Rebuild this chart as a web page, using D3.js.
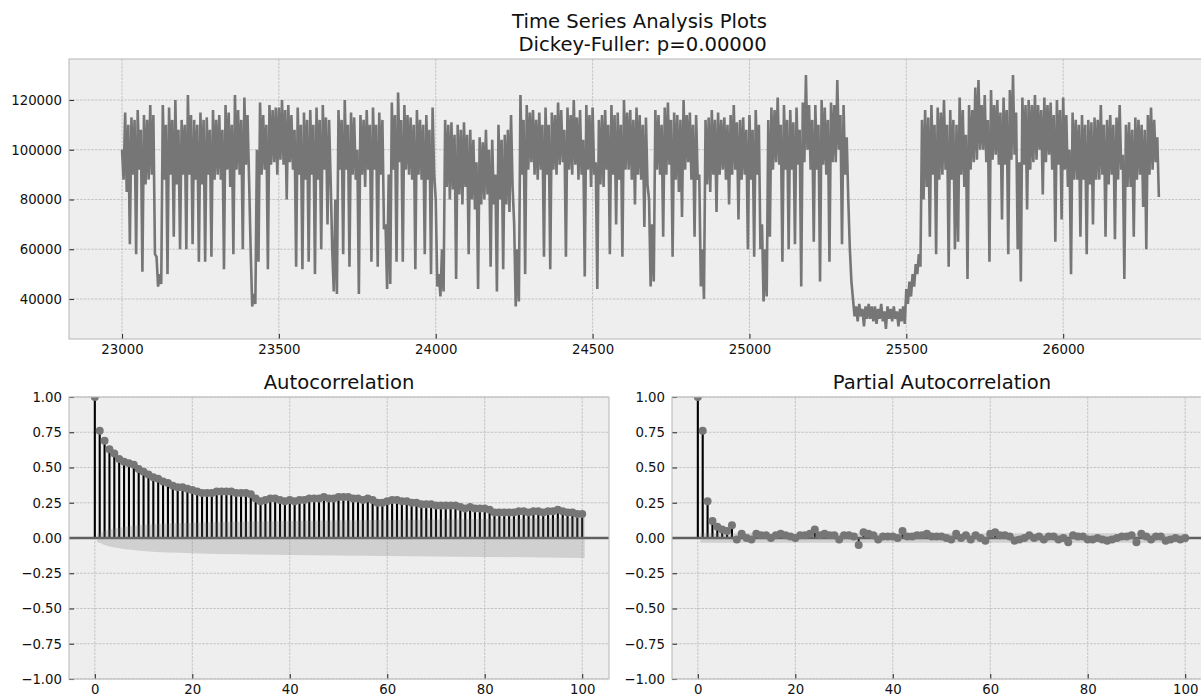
<!DOCTYPE html>
<html lang="en">
<head>
<meta charset="UTF-8">
<script src="https://cdn.jsdelivr.net/npm/d3@7"></script>
<title>Time Series Analysis Plots</title>
<style>
  body { margin: 0; background: #fff; }
  svg { display: block; font-family: "DejaVu Sans", sans-serif; }
</style>
</head>
<body>
<svg id="chart" width="1201" height="697"></svg>
<script>
// ---- data ----
// series: top and bottom of the trace in each 10-step bin, in thousands
const tsStart = 23000;
const tsStep = 10;
const tsHigh = [
  100, 115, 110, 113, 112, 116, 108, 114, 112, 118,
  114, 57, 50, 118, 110, 117, 112, 120, 108, 112,
  110, 122, 114, 112, 110, 115, 112, 113, 108, 116,
  112, 114, 108, 118, 115, 110, 122, 116, 112, 121,
  114, 60, 42, 100, 119, 114, 110, 118, 116, 117,
  117, 120, 116, 118, 114, 108, 117, 110, 115, 112,
  116, 110, 117, 112, 118, 113, 112, 60, 80, 116,
  112, 120, 110, 115, 113, 100, 114, 112, 116, 110,
  117, 110, 115, 112, 70, 90, 119, 114, 123, 112,
  118, 114, 113, 110, 116, 112, 110, 114, 108, 117,
  80, 50, 60, 112, 110, 111, 106, 110, 108, 111,
  106, 108, 104, 95, 105, 103, 108, 100, 104, 90,
  110, 104, 106, 108, 114, 70, 60, 122, 112, 118,
  115, 116, 112, 115, 110, 117, 110, 115, 114, 119,
  116, 108, 117, 114, 120, 113, 116, 104, 118, 114,
  117, 95, 112, 114, 116, 110, 118, 114, 115, 110,
  120, 115, 116, 112, 117, 114, 110, 113, 80, 70,
  116, 114, 110, 117, 119, 112, 115, 114, 112, 120,
  114, 115, 110, 114, 90, 60, 112, 113, 116, 112,
  115, 112, 113, 110, 114, 118, 111, 112, 113, 108,
  114, 108, 116, 110, 70, 60, 112, 117, 116, 121,
  110, 118, 112, 116, 111, 117, 108, 119, 130, 118,
  112, 118, 110, 120, 117, 112, 119, 118, 128, 114,
  118, 105, 60, 40, 37, 38, 36, 37, 38, 37,
  37, 36, 38, 35, 37, 36, 37, 35, 36, 37,
  44, 47, 50, 54, 58, 112, 116, 113, 118, 110,
  117, 115, 120, 110, 116, 112, 110, 121, 116, 106,
  118, 116, 125, 128, 118, 122, 112, 124, 118, 120,
  115, 121, 116, 124, 130, 115, 95, 121, 118, 120,
  118, 122, 118, 116, 121, 118, 119, 114, 120, 116,
  121, 114, 100, 115, 112, 110, 114, 110, 112, 111,
  113, 112, 118, 110, 112, 114, 110, 113, 118, 98,
  110, 111, 108, 113, 112, 110, 108, 114, 117, 112,
  105
];
const tsLow = [
  88, 83, 62, 90, 58, 92, 51, 86, 88, 90,
  58, 45, 46, 88, 50, 90, 65, 86, 60, 90,
  60, 90, 62, 88, 55, 86, 55, 90, 57, 88,
  90, 88, 52, 92, 85, 58, 92, 90, 60, 94,
  88, 37, 38, 55, 90, 92, 52, 94, 95, 90,
  96, 94, 80, 95, 92, 53, 90, 52, 88, 55,
  90, 50, 88, 60, 92, 70, 88, 43, 42, 92,
  58, 92, 53, 90, 88, 42, 90, 85, 92, 55,
  92, 53, 90, 68, 44, 46, 92, 55, 95, 55,
  92, 90, 88, 52, 90, 88, 58, 88, 50, 90,
  45, 41, 43, 85, 80, 84, 48, 82, 78, 85,
  58, 80, 76, 44, 78, 80, 82, 53, 78, 43,
  80, 52, 78, 75, 85, 37, 39, 90, 50, 92,
  95, 90, 88, 92, 57, 90, 52, 92, 90, 94,
  95, 57, 92, 90, 94, 88, 90, 49, 92, 85,
  90, 44, 86, 85, 92, 58, 90, 70, 88, 57,
  92, 92, 88, 78, 90, 88, 69, 86, 45, 47,
  92, 90, 65, 90, 94, 57, 88, 83, 73, 92,
  95, 88, 65, 88, 45, 40, 86, 83, 90, 75,
  90, 92, 88, 78, 90, 92, 72, 88, 90, 60,
  88, 57, 90, 60, 39, 41, 65, 92, 95, 94,
  55, 92, 60, 92, 62, 94, 45, 95, 100, 92,
  63, 92, 47, 94, 90, 55, 95, 95, 100, 62,
  90, 80, 47, 33, 31, 33, 29, 32, 32, 31,
  30, 32, 31, 28, 32, 31, 32, 29, 31, 30,
  38, 41, 45, 50, 53, 80, 85, 65, 90, 58,
  88, 90, 92, 53, 88, 60, 63, 90, 85, 48,
  92, 95, 96, 100, 100, 95, 55, 96, 98, 94,
  72, 94, 58, 96, 98, 60, 47, 94, 76, 92,
  95, 96, 100, 82, 95, 98, 92, 63, 94, 72,
  92, 85, 50, 88, 88, 65, 88, 58, 86, 70,
  88, 88, 90, 65, 86, 90, 64, 88, 92, 48,
  85, 85, 65, 88, 90, 77, 60, 90, 92, 95,
  81
];

const acfValues = [
  1.00, 0.76, 0.69, 0.63, 0.60, 0.56, 0.54, 0.53, 0.52, 0.49,
  0.47, 0.45, 0.43, 0.42, 0.40, 0.39, 0.37, 0.36, 0.36, 0.35,
  0.34, 0.33, 0.32, 0.32, 0.32, 0.33, 0.33, 0.33, 0.33, 0.32,
  0.32, 0.32, 0.31, 0.28, 0.26, 0.27, 0.28, 0.28, 0.27, 0.26,
  0.27, 0.26, 0.27, 0.27, 0.28, 0.28, 0.28, 0.29, 0.28, 0.28,
  0.29, 0.29, 0.29, 0.28, 0.28, 0.27, 0.28, 0.27, 0.25, 0.25,
  0.26, 0.27, 0.27, 0.26, 0.26, 0.25, 0.25, 0.24, 0.24, 0.24,
  0.23, 0.23, 0.23, 0.23, 0.23, 0.22, 0.21, 0.22, 0.21, 0.21,
  0.21, 0.20, 0.18, 0.18, 0.18, 0.18, 0.18, 0.19, 0.19, 0.18,
  0.19, 0.19, 0.18, 0.19, 0.19, 0.20, 0.19, 0.18, 0.18, 0.17,
  0.17
];

const pacfValues = [
  1.00, 0.76, 0.26, 0.12, 0.08, 0.06, 0.05, 0.09, -0.01, 0.03,
  0.00, -0.01, 0.03, 0.02, 0.02, 0.00, 0.02, 0.03, 0.02, 0.01,
  0.00, 0.02, 0.02, 0.03, 0.06, 0.02, 0.03, 0.02, 0.02, -0.01,
  0.02, 0.02, 0.01, -0.05, 0.04, 0.03, 0.02, -0.01, 0.01, 0.01,
  0.01, 0.00, 0.05, 0.01, 0.01, 0.02, 0.02, 0.03, 0.01, 0.01,
  0.01, 0.00, -0.01, 0.03, 0.00, 0.02, -0.01, 0.02, 0.00, -0.02,
  0.03, 0.04, 0.02, 0.02, 0.01, -0.02, -0.01, 0.00, 0.02, 0.00,
  0.01, -0.01, 0.01, 0.01, -0.01, 0.00, -0.03, 0.02, 0.01, 0.01,
  -0.01, -0.01, 0.00, -0.01, -0.02, -0.01, 0.00, 0.01, 0.01, 0.02,
  -0.03, 0.03, 0.01, -0.01, 0.01, 0.01, -0.02, -0.01, 0.00, -0.01,
  0.00
];

// confidence band half-widths, read at a few lags
const acfBandLags = [0.5, 1, 2, 3, 5, 10, 20, 30, 40, 60, 80, 100.5];
const acfBandHalf = [0.034, 0.034, 0.05, 0.06, 0.073, 0.092, 0.108, 0.116, 0.121, 0.128, 0.134, 0.141];
const pacfBandLags = [0.5, 100.5];
const pacfBandHalf = [0.034, 0.034];

const tsXTicks = [23000, 23500, 24000, 24500, 25000, 25500, 26000];
const tsYTicks = [40000, 60000, 80000, 100000, 120000];
const lagTicks = [0, 20, 40, 60, 80, 100];
const corrTicks = [-1, -0.75, -0.5, -0.25, 0, 0.25, 0.5, 0.75, 1];

const titleLines = ["Time Series Analysis Plots", " Dickey-Fuller: p=0.00000"];

// ---- drawing ----
const svg = d3.select("#chart");
const fontSize = 13.3;
const gray = "#767676";

function frame(name, x, y, xTicks, yTicks, xFmt, yFmt) {
  const [l, r] = x.range();
  const [b, t] = y.range();
  const g = svg.append("g");

  g.append("clipPath").attr("id", "clip-" + name)
    .append("rect").attr("x", l).attr("y", t).attr("width", r - l).attr("height", b - t);

  g.append("rect")
    .attr("x", l).attr("y", t).attr("width", r - l).attr("height", b - t)
    .attr("fill", "#eeeeee");

  // dashed grid
  g.selectAll(".gx").data(xTicks).join("line")
    .attr("x1", d => x(d)).attr("x2", d => x(d)).attr("y1", t).attr("y2", b)
    .attr("stroke", "#b2b2b2").attr("stroke-width", 0.7).attr("stroke-dasharray", "2.5,1.2");
  g.selectAll(".gy").data(yTicks).join("line")
    .attr("y1", d => y(d)).attr("y2", d => y(d)).attr("x1", l).attr("x2", r)
    .attr("stroke", "#b2b2b2").attr("stroke-width", 0.7).attr("stroke-dasharray", "2.5,1.2");

  const xa = g.append("g").attr("transform", `translate(0,${b})`)
    .call(d3.axisBottom(x).tickValues(xTicks).tickFormat(xFmt).tickSize(-5).tickPadding(6));
  const ya = g.append("g").attr("transform", `translate(${l},0)`)
    .call(d3.axisLeft(y).tickValues(yTicks).tickFormat(yFmt).tickSize(-5).tickPadding(7));
  [xa, ya].forEach(a => {
    a.select(".domain").remove();
    a.selectAll(".tick line").attr("stroke", "#333").attr("stroke-width", 1.1);
    a.selectAll(".tick text").attr("fill", "#111")
      .style("font-size", fontSize + "px").style("font-family", "DejaVu Sans");
  });

  const plot = g.append("g").attr("clip-path", `url(#clip-${name})`);
  return { g, plot, box: { l, r, t, b } };
}

function border(p) {
  p.g.append("rect")
    .attr("x", p.box.l).attr("y", p.box.t)
    .attr("width", p.box.r - p.box.l).attr("height", p.box.b - p.box.t)
    .attr("fill", "none").attr("stroke", "#bcbcbc").attr("stroke-width", 1.1);
}

// time series panel
const tsX = d3.scaleLinear().domain([22831, 26468]).range([69, 1210]);
const tsY = d3.scaleLinear().domain([23920, 136480]).range([339, 59]);
const ts = frame("ts", tsX, tsY, tsXTicks, tsYTicks, d3.format("d"), d3.format("d"));

// trace goes top, bottom, top, bottom ... through each bin
const tsPoints = tsHigh.flatMap((h, i) => [
  [tsStart + i * tsStep, h],
  [tsStart + i * tsStep + tsStep / 2, tsLow[i]]
]);

const line = d3.line()
  .x(d => tsX(d[0]))
  .y(d => tsY(d[1] * 1000));
ts.plot.append("path")
  .datum(tsPoints)
  .attr("d", line)
  .attr("fill", "none")
  .attr("stroke", gray)
  .attr("stroke-width", 2.6)
  .attr("stroke-linejoin", "miter");
border(ts);

svg.selectAll(".title").data(titleLines).join("text")
  .attr("x", (69 + 1210) / 2)
  .attr("y", (d, i) => 28 + i * 22.5)
  .attr("text-anchor", "middle")
  .attr("fill", "#111")
  .style("font-size", "19.6px")
  .style("white-space", "pre")
  .text(d => d);

// correlogram panels
function correlogram(name, left, right, values, bandLags, bandHalf, title) {
  const x = d3.scaleLinear().domain([-5.3, 105.5]).range([left, right]);
  const y = d3.scaleLinear().domain([-1, 1]).range([679, 397]);
  const p = frame(name, x, y, lagTicks, corrTicks, d3.format("d"), d3.format(".2f"));
  const lags = d3.range(values.length);

  p.plot.selectAll(".stem").data(lags).join("line")
    .attr("x1", d => x(d)).attr("x2", d => x(d))
    .attr("y1", y(0)).attr("y2", d => y(values[d]))
    .attr("stroke", "#000").attr("stroke-width", 2.1);

  p.plot.append("line")
    .attr("x1", left).attr("x2", right).attr("y1", y(0)).attr("y2", y(0))
    .attr("stroke", "#606060").attr("stroke-width", 2.4);

  p.plot.selectAll(".dot").data(lags).join("circle")
    .attr("cx", d => x(d)).attr("cy", d => y(values[d]))
    .attr("r", 4).attr("fill", gray);

  const area = d3.area()
    .x((d, i) => x(bandLags[i]))
    .y0(d => y(-d)).y1(d => y(d))
    .curve(d3.curveMonotoneX);
  p.plot.append("path").datum(bandHalf)
    .attr("d", area).attr("fill", gray).attr("fill-opacity", 0.25);

  border(p);

  svg.append("text")
    .attr("x", (left + right) / 2).attr("y", 389)
    .attr("text-anchor", "middle").attr("fill", "#111")
    .style("font-size", "19.6px")
    .text(title);
}

correlogram("acf", 69, 609, acfValues, acfBandLags, acfBandHalf, "Autocorrelation");
correlogram("pacf", 672, 1212, pacfValues, pacfBandLags, pacfBandHalf, "Partial Autocorrelation");
</script>
</body>
</html>
